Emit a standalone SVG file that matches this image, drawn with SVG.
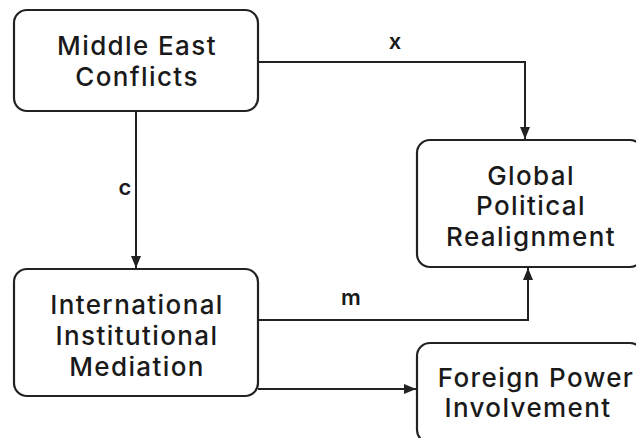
<svg xmlns="http://www.w3.org/2000/svg" width="636" height="438" viewBox="0 0 636 438">
<defs>
<style>
.box{fill:#fff;stroke:#222;stroke-width:2.2}
.t{font-family:Inter,"Liberation Sans",sans-serif;font-size:26px;font-weight:500;letter-spacing:1.4px;fill:#1a1a1a;text-anchor:middle}
.lbl{font-family:Inter,"Liberation Sans",sans-serif;font-size:22px;font-weight:600;fill:#1a1a1a;text-anchor:middle}
.c{fill:none;stroke:#222;stroke-width:2}
</style>
<marker id="a" viewBox="0 0 12 10" refX="12" refY="5" markerWidth="12" markerHeight="10" markerUnits="userSpaceOnUse" orient="auto">
<path d="M0,0 L12,5 L0,10 z" fill="#222"/>
</marker>
</defs>
<rect width="636" height="438" fill="#fff"/>
<g id="connectors">
<polyline class="c" points="258,62 525,62 525,139" marker-end="url(#a)"/>
<polyline class="c" points="136,111 136,268" marker-end="url(#a)"/>
<polyline class="c" points="258,320 528,320 528,268" marker-end="url(#a)"/>
<polyline class="c" points="258,389 416,389" marker-end="url(#a)"/>
<text class="lbl" x="395" y="49">x</text>
<text class="lbl" x="125" y="195">c</text>
<text class="lbl" x="351" y="305">m</text>
</g>
<g id="middle-east-conflicts">
<rect class="box" x="14" y="10" width="244" height="101" rx="13"/>
<text class="t" x="137" y="55">Middle East</text>
<text class="t" x="137" y="86">Conflicts</text>
</g>
<g id="global-political-realignment">
<rect class="box" x="417" y="140" width="226" height="127" rx="13"/>
<text class="t" x="531" y="185">Global</text>
<text class="t" x="531" y="215">Political</text>
<text class="t" x="531" y="246">Realignment</text>
</g>
<g id="international-institutional-mediation">
<rect class="box" x="14" y="269" width="244" height="127" rx="13"/>
<text class="t" x="137" y="314">International</text>
<text class="t" x="137" y="345">Institutional</text>
<text class="t" x="137" y="376">Mediation</text>
</g>
<g id="foreign-power-involvement">
<rect class="box" x="417" y="343" width="226" height="100" rx="13"/>
<text class="t" x="536" y="387">Foreign Power</text>
<text class="t" x="528" y="417">Involvement</text>
</g>
</svg>
